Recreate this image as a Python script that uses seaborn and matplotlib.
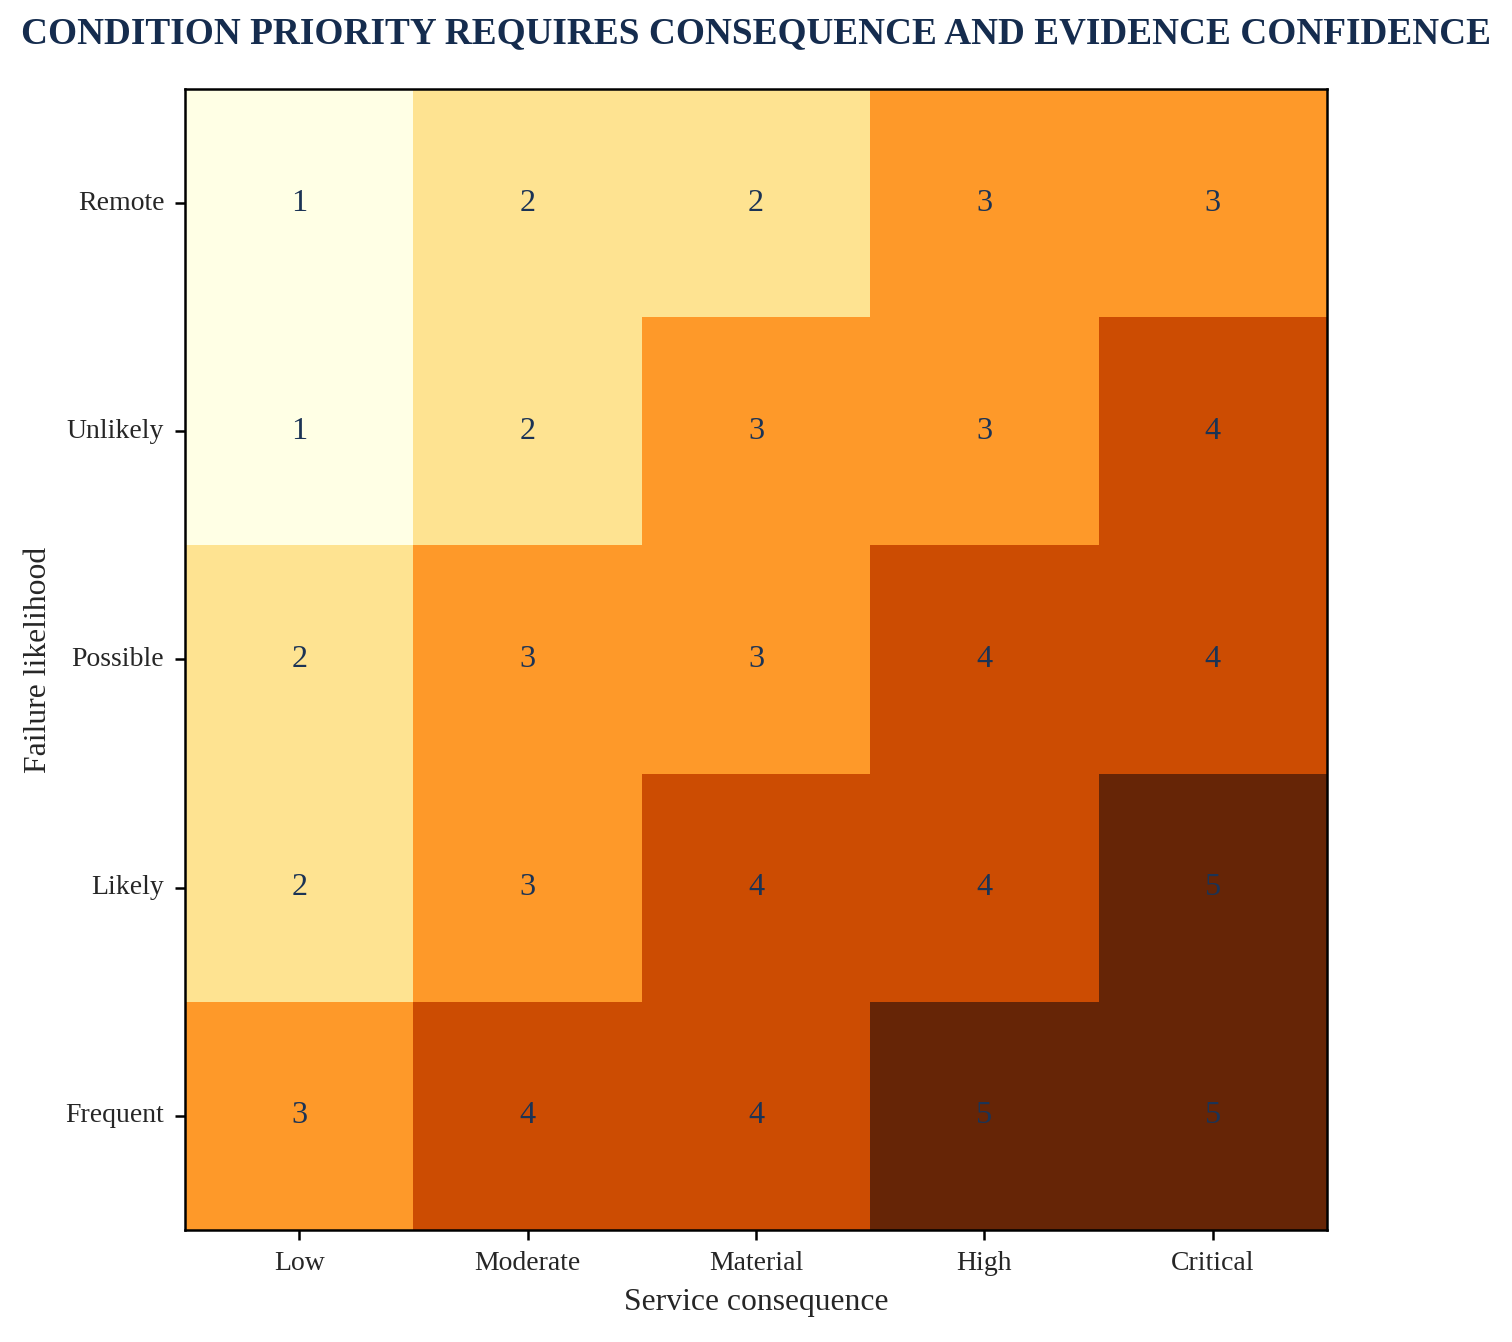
import numpy as np
import pandas as pd
import matplotlib
matplotlib.use("Agg")
import matplotlib.pyplot as plt
import seaborn as sns
from matplotlib.colors import ListedColormap

# Datos de la matriz de prioridad
consequence = ["Low", "Moderate", "Material", "High", "Critical"]
likelihood = ["Remote", "Unlikely", "Possible", "Likely", "Frequent"]
priority_remote = [1, 2, 2, 3, 3]
priority_unlikely = [1, 2, 3, 3, 4]
priority_possible = [2, 3, 3, 4, 4]
priority_likely = [2, 3, 4, 4, 5]
priority_frequent = [3, 4, 4, 5, 5]

level_colors = ["#ffffe5", "#fee391", "#fe9929", "#cc4c02", "#662506"]

sns.set_style("white")
plt.rcParams["font.family"] = ["Liberation Serif", "DejaVu Serif"]

grid = pd.DataFrame(
    [priority_remote, priority_unlikely, priority_possible,
     priority_likely, priority_frequent],
    index=likelihood, columns=consequence,
)

fig = plt.figure(figsize=(10.08, 8.947), dpi=150)
ax = fig.add_axes([0.1224, 0.0835, 0.7552, 0.8502])

sns.heatmap(
    grid, ax=ax, cmap=ListedColormap(level_colors), vmin=0.5, vmax=5.5,
    cbar=False, annot=True, fmt="d", square=False,
    annot_kws={"fontsize": 15.5, "color": "#1b3355"},
)

for side in ["top", "right", "bottom", "left"]:
    ax.spines[side].set_visible(True)
    ax.spines[side].set_color("black")
    ax.spines[side].set_linewidth(1.2)

ax.tick_params(axis="both", which="both", length=5, width=1.2, color="black",
               labelsize=13.3, bottom=True, left=True, direction="out", pad=5)
plt.setp(ax.get_yticklabels(), rotation=0)
plt.setp(ax.get_xticklabels(), rotation=0)
ax.set_xlabel("Service consequence", fontsize=15.2, labelpad=6)
ax.set_ylabel("Failure likelihood", fontsize=15.2, labelpad=6)

fig.suptitle("CONDITION PRIORITY REQUIRES CONSEQUENCE AND EVIDENCE CONFIDENCE",
             x=0.5, y=0.988, fontsize=17.9, fontweight="bold", color="#152c4e")

fig.savefig("out.png", dpi=150)
plt.close()
